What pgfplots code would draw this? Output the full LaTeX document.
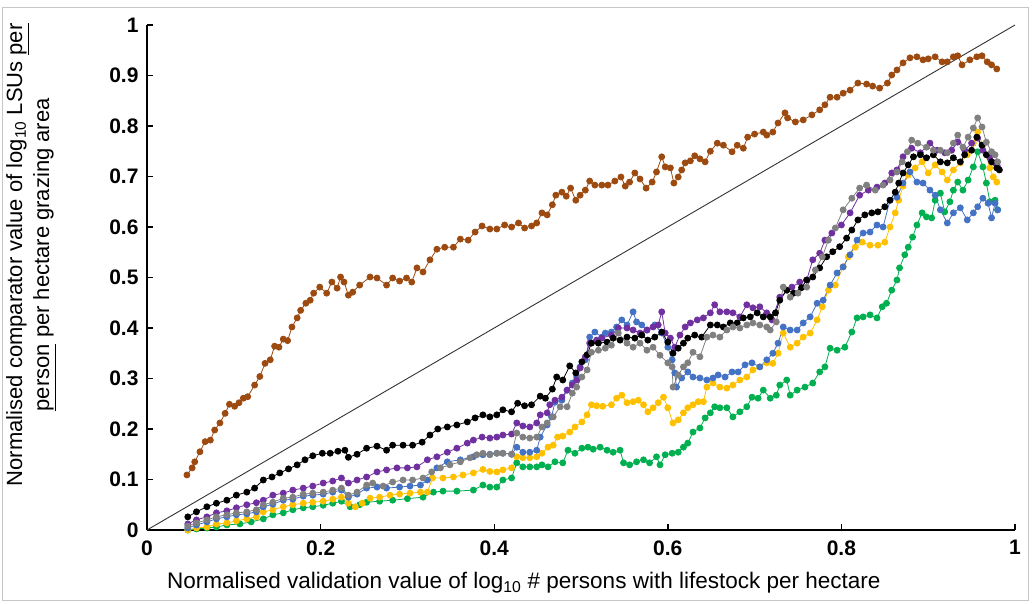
\documentclass[border=0pt]{standalone}
\usepackage{pgfplots}
\usepackage{pgfplotstable}
\usepackage{fontspec}
\setmainfont{Liberation Sans}
\pgfplotsset{compat=1.18}
\definecolor{cbrown}{HTML}{9C4A10}
\definecolor{cpurple}{HTML}{7030A0}
\definecolor{cgray}{HTML}{808080}
\definecolor{cblue}{HTML}{4472C4}
\definecolor{cyellow}{HTML}{FFC000}
\definecolor{cgreen}{HTML}{00B050}
\pgfplotstableread{
x y
0.046 0.109
0.052 0.123
0.055 0.135
0.061 0.155
0.067 0.175
0.073 0.178
0.078 0.198
0.084 0.212
0.090 0.231
0.095 0.249
0.101 0.245
0.106 0.252
0.111 0.261
0.116 0.264
0.124 0.287
0.130 0.304
0.136 0.330
0.142 0.337
0.147 0.364
0.152 0.362
0.157 0.378
0.162 0.375
0.167 0.402
0.173 0.420
0.177 0.435
0.183 0.449
0.188 0.455
0.192 0.469
0.199 0.481
0.207 0.469
0.213 0.491
0.219 0.479
0.223 0.501
0.227 0.491
0.232 0.465
0.237 0.471
0.245 0.485
0.257 0.501
0.265 0.499
0.276 0.485
0.283 0.499
0.291 0.493
0.299 0.499
0.305 0.491
0.311 0.519
0.318 0.511
0.326 0.535
0.334 0.556
0.343 0.560
0.353 0.560
0.361 0.576
0.370 0.574
0.378 0.590
0.386 0.602
0.395 0.596
0.403 0.596
0.412 0.604
0.420 0.600
0.428 0.608
0.435 0.598
0.443 0.602
0.449 0.608
0.455 0.628
0.461 0.624
0.467 0.644
0.471 0.663
0.478 0.669
0.483 0.661
0.488 0.677
0.494 0.653
0.499 0.663
0.505 0.673
0.510 0.691
0.516 0.683
0.524 0.683
0.531 0.683
0.539 0.691
0.546 0.699
0.551 0.681
0.556 0.689
0.562 0.707
0.568 0.695
0.575 0.677
0.582 0.689
0.587 0.709
0.593 0.739
0.597 0.719
0.603 0.717
0.607 0.687
0.612 0.699
0.616 0.713
0.620 0.727
0.626 0.731
0.631 0.741
0.637 0.735
0.643 0.729
0.649 0.750
0.657 0.766
0.664 0.762
0.674 0.749
0.680 0.762
0.687 0.756
0.692 0.778
0.700 0.784
0.710 0.788
0.714 0.782
0.721 0.788
0.727 0.806
0.735 0.826
0.738 0.816
0.747 0.808
0.756 0.812
0.766 0.822
0.775 0.832
0.781 0.842
0.787 0.857
0.795 0.857
0.802 0.865
0.810 0.871
0.819 0.885
0.829 0.883
0.836 0.879
0.844 0.875
0.853 0.885
0.858 0.901
0.864 0.911
0.871 0.925
0.879 0.935
0.887 0.937
0.894 0.931
0.900 0.933
0.908 0.937
0.916 0.927
0.922 0.927
0.929 0.937
0.934 0.939
0.939 0.921
0.948 0.931
0.956 0.937
0.962 0.939
0.968 0.927
0.973 0.921
0.979 0.913
}\brown
\pgfplotstableread{
x y
0.047 0.026
0.057 0.036
0.069 0.046
0.080 0.053
0.092 0.059
0.103 0.069
0.115 0.075
0.124 0.083
0.134 0.099
0.144 0.105
0.153 0.113
0.163 0.121
0.173 0.129
0.182 0.139
0.191 0.147
0.202 0.152
0.211 0.152
0.220 0.156
0.228 0.158
0.232 0.144
0.242 0.150
0.253 0.162
0.265 0.166
0.276 0.158
0.283 0.168
0.295 0.168
0.306 0.168
0.317 0.174
0.326 0.188
0.335 0.200
0.346 0.204
0.357 0.208
0.369 0.214
0.378 0.222
0.387 0.228
0.395 0.224
0.403 0.228
0.410 0.238
0.420 0.234
0.427 0.251
0.435 0.246
0.443 0.248
0.453 0.265
0.459 0.261
0.467 0.279
0.472 0.303
0.479 0.297
0.487 0.325
0.494 0.311
0.501 0.333
0.507 0.347
0.512 0.370
0.520 0.370
0.530 0.372
0.537 0.380
0.545 0.376
0.553 0.382
0.562 0.380
0.570 0.386
0.577 0.376
0.585 0.382
0.593 0.392
0.600 0.372
0.606 0.350
0.612 0.360
0.618 0.370
0.623 0.380
0.631 0.386
0.639 0.382
0.649 0.406
0.657 0.406
0.664 0.402
0.672 0.410
0.680 0.410
0.687 0.420
0.695 0.422
0.703 0.430
0.710 0.422
0.718 0.422
0.724 0.430
0.729 0.455
0.737 0.475
0.745 0.469
0.754 0.480
0.760 0.495
0.767 0.501
0.775 0.519
0.783 0.541
0.790 0.551
0.798 0.561
0.806 0.578
0.812 0.594
0.819 0.614
0.827 0.624
0.835 0.628
0.842 0.630
0.850 0.640
0.856 0.653
0.862 0.669
0.866 0.687
0.871 0.707
0.877 0.723
0.883 0.739
0.891 0.743
0.898 0.737
0.906 0.743
0.914 0.729
0.922 0.727
0.929 0.737
0.937 0.729
0.942 0.743
0.950 0.752
0.956 0.778
0.962 0.762
0.967 0.743
0.973 0.729
0.979 0.717
0.982 0.713
}\black
\pgfplotstableread{
x y
0.047 0.012
0.057 0.020
0.069 0.026
0.080 0.034
0.092 0.038
0.103 0.044
0.115 0.050
0.126 0.054
0.134 0.059
0.145 0.069
0.157 0.073
0.168 0.079
0.180 0.083
0.191 0.087
0.203 0.093
0.214 0.097
0.224 0.103
0.232 0.093
0.242 0.099
0.253 0.105
0.265 0.115
0.276 0.119
0.288 0.123
0.300 0.123
0.311 0.125
0.323 0.139
0.334 0.145
0.346 0.154
0.357 0.162
0.369 0.172
0.376 0.178
0.386 0.184
0.395 0.182
0.403 0.184
0.410 0.188
0.420 0.190
0.426 0.212
0.433 0.206
0.441 0.204
0.449 0.212
0.453 0.228
0.461 0.232
0.464 0.248
0.470 0.257
0.478 0.263
0.484 0.277
0.490 0.287
0.495 0.297
0.499 0.321
0.505 0.343
0.510 0.370
0.518 0.376
0.524 0.380
0.535 0.386
0.543 0.400
0.553 0.400
0.560 0.396
0.568 0.390
0.576 0.396
0.583 0.402
0.589 0.406
0.593 0.432
0.597 0.390
0.603 0.380
0.608 0.362
0.614 0.386
0.620 0.402
0.626 0.410
0.634 0.416
0.641 0.420
0.649 0.430
0.654 0.446
0.660 0.432
0.668 0.432
0.675 0.430
0.683 0.422
0.691 0.446
0.698 0.440
0.706 0.442
0.714 0.430
0.720 0.416
0.729 0.461
0.743 0.481
0.752 0.491
0.760 0.495
0.767 0.535
0.775 0.548
0.781 0.574
0.789 0.588
0.800 0.604
0.810 0.628
0.821 0.663
0.831 0.673
0.841 0.679
0.850 0.687
0.858 0.707
0.864 0.713
0.871 0.739
0.881 0.756
0.891 0.747
0.902 0.766
0.910 0.752
0.919 0.747
0.927 0.752
0.934 0.768
0.942 0.752
0.950 0.766
0.957 0.776
0.963 0.752
0.971 0.737
0.977 0.727
0.980 0.719
}\purple
\pgfplotstableread{
x y
0.047 0.008
0.057 0.014
0.069 0.020
0.080 0.026
0.092 0.030
0.103 0.034
0.115 0.036
0.126 0.040
0.134 0.050
0.145 0.055
0.157 0.063
0.168 0.065
0.180 0.071
0.191 0.073
0.203 0.075
0.214 0.079
0.224 0.083
0.232 0.069
0.242 0.075
0.253 0.089
0.260 0.093
0.272 0.087
0.283 0.095
0.295 0.099
0.306 0.099
0.318 0.103
0.328 0.115
0.338 0.123
0.349 0.129
0.361 0.135
0.372 0.143
0.380 0.149
0.387 0.152
0.395 0.149
0.403 0.152
0.410 0.152
0.420 0.150
0.426 0.192
0.433 0.184
0.441 0.182
0.449 0.184
0.455 0.204
0.461 0.212
0.468 0.224
0.476 0.244
0.484 0.244
0.490 0.271
0.495 0.283
0.501 0.303
0.507 0.317
0.512 0.352
0.520 0.356
0.528 0.360
0.535 0.366
0.543 0.390
0.553 0.370
0.560 0.362
0.568 0.370
0.576 0.356
0.583 0.362
0.591 0.346
0.600 0.331
0.605 0.323
0.606 0.283
0.612 0.307
0.618 0.323
0.623 0.331
0.629 0.352
0.637 0.343
0.645 0.382
0.652 0.386
0.660 0.382
0.668 0.396
0.675 0.402
0.683 0.400
0.691 0.406
0.698 0.410
0.706 0.406
0.714 0.402
0.718 0.396
0.725 0.412
0.733 0.481
0.741 0.461
0.750 0.469
0.760 0.481
0.770 0.515
0.778 0.541
0.785 0.574
0.793 0.598
0.802 0.634
0.812 0.657
0.821 0.677
0.829 0.683
0.839 0.673
0.848 0.683
0.856 0.693
0.864 0.709
0.870 0.729
0.876 0.749
0.881 0.772
0.888 0.766
0.898 0.758
0.906 0.752
0.914 0.752
0.922 0.747
0.929 0.766
0.934 0.782
0.940 0.758
0.946 0.778
0.952 0.796
0.957 0.816
0.962 0.798
0.967 0.768
0.973 0.749
0.977 0.743
0.980 0.729
}\gray
\pgfplotstableread{
x y
0.047 0.004
0.057 0.010
0.069 0.016
0.080 0.022
0.092 0.026
0.103 0.030
0.115 0.032
0.126 0.036
0.134 0.046
0.145 0.051
0.157 0.059
0.168 0.061
0.180 0.067
0.191 0.069
0.203 0.071
0.214 0.075
0.224 0.079
0.232 0.065
0.242 0.071
0.253 0.083
0.265 0.085
0.276 0.083
0.291 0.085
0.303 0.087
0.315 0.089
0.323 0.099
0.334 0.123
0.346 0.135
0.361 0.139
0.376 0.145
0.387 0.149
0.395 0.150
0.403 0.152
0.410 0.152
0.420 0.150
0.426 0.164
0.433 0.154
0.441 0.154
0.449 0.158
0.453 0.184
0.461 0.208
0.466 0.224
0.470 0.253
0.478 0.257
0.484 0.277
0.490 0.291
0.495 0.303
0.499 0.323
0.505 0.337
0.510 0.382
0.516 0.392
0.524 0.382
0.528 0.390
0.535 0.392
0.541 0.402
0.547 0.416
0.553 0.406
0.560 0.432
0.564 0.412
0.570 0.406
0.576 0.396
0.585 0.406
0.593 0.390
0.600 0.362
0.605 0.337
0.608 0.311
0.610 0.283
0.616 0.301
0.623 0.313
0.629 0.303
0.637 0.301
0.645 0.297
0.652 0.301
0.658 0.307
0.666 0.303
0.674 0.313
0.681 0.313
0.689 0.327
0.697 0.331
0.706 0.323
0.714 0.337
0.721 0.350
0.727 0.370
0.733 0.402
0.741 0.396
0.749 0.396
0.756 0.410
0.764 0.422
0.772 0.449
0.779 0.455
0.787 0.485
0.795 0.509
0.802 0.521
0.810 0.545
0.818 0.574
0.825 0.588
0.833 0.590
0.841 0.604
0.848 0.600
0.856 0.653
0.864 0.659
0.871 0.687
0.879 0.709
0.887 0.689
0.894 0.687
0.902 0.673
0.908 0.663
0.914 0.634
0.922 0.608
0.929 0.628
0.937 0.638
0.945 0.614
0.952 0.628
0.957 0.640
0.963 0.657
0.969 0.647
0.973 0.618
0.977 0.647
0.980 0.634
}\blue
\pgfplotstableread{
x y
0.047 0.000
0.057 0.004
0.069 0.006
0.080 0.012
0.092 0.014
0.103 0.018
0.115 0.022
0.126 0.026
0.134 0.036
0.145 0.040
0.157 0.046
0.168 0.050
0.180 0.053
0.191 0.055
0.203 0.057
0.214 0.061
0.224 0.065
0.232 0.053
0.240 0.046
0.248 0.053
0.257 0.063
0.268 0.065
0.280 0.069
0.291 0.071
0.303 0.073
0.315 0.075
0.323 0.075
0.329 0.103
0.341 0.103
0.353 0.105
0.364 0.109
0.376 0.113
0.387 0.120
0.395 0.116
0.403 0.115
0.410 0.119
0.420 0.123
0.426 0.145
0.433 0.143
0.441 0.143
0.449 0.145
0.455 0.152
0.462 0.164
0.468 0.168
0.473 0.184
0.479 0.186
0.487 0.194
0.493 0.204
0.501 0.214
0.507 0.228
0.512 0.248
0.518 0.246
0.525 0.245
0.535 0.248
0.541 0.261
0.547 0.267
0.553 0.252
0.560 0.254
0.566 0.257
0.572 0.248
0.577 0.234
0.583 0.242
0.589 0.252
0.595 0.263
0.600 0.242
0.606 0.212
0.612 0.218
0.618 0.232
0.623 0.242
0.629 0.248
0.635 0.254
0.641 0.254
0.645 0.283
0.652 0.291
0.660 0.283
0.668 0.281
0.675 0.287
0.683 0.297
0.691 0.303
0.698 0.317
0.706 0.323
0.714 0.331
0.721 0.330
0.727 0.350
0.733 0.390
0.741 0.362
0.749 0.370
0.756 0.382
0.764 0.390
0.772 0.416
0.778 0.442
0.785 0.475
0.793 0.485
0.802 0.521
0.808 0.541
0.816 0.560
0.824 0.570
0.833 0.564
0.842 0.564
0.850 0.570
0.856 0.600
0.862 0.628
0.866 0.653
0.871 0.681
0.877 0.703
0.885 0.717
0.893 0.729
0.900 0.707
0.908 0.723
0.916 0.709
0.922 0.693
0.929 0.713
0.937 0.727
0.945 0.743
0.952 0.766
0.957 0.788
0.963 0.762
0.971 0.717
0.975 0.699
0.979 0.689
}\yellow
\pgfplotstableread{
x y
0.047 0.000
0.057 0.002
0.069 0.004
0.080 0.006
0.092 0.010
0.107 0.012
0.120 0.016
0.134 0.022
0.145 0.030
0.157 0.034
0.168 0.040
0.180 0.044
0.191 0.046
0.203 0.049
0.214 0.053
0.224 0.057
0.234 0.046
0.245 0.050
0.253 0.055
0.268 0.057
0.283 0.059
0.300 0.062
0.318 0.065
0.330 0.075
0.341 0.077
0.357 0.077
0.376 0.079
0.387 0.089
0.395 0.085
0.403 0.085
0.410 0.099
0.420 0.103
0.426 0.133
0.433 0.125
0.441 0.125
0.449 0.125
0.455 0.129
0.462 0.125
0.470 0.135
0.479 0.133
0.485 0.158
0.493 0.152
0.501 0.162
0.508 0.164
0.514 0.160
0.522 0.164
0.530 0.158
0.537 0.154
0.545 0.158
0.549 0.133
0.556 0.129
0.564 0.135
0.572 0.139
0.579 0.133
0.587 0.145
0.591 0.129
0.597 0.149
0.605 0.152
0.612 0.154
0.618 0.164
0.623 0.172
0.629 0.194
0.637 0.202
0.643 0.222
0.649 0.232
0.654 0.244
0.660 0.242
0.668 0.242
0.675 0.224
0.683 0.234
0.691 0.244
0.697 0.263
0.704 0.261
0.710 0.277
0.718 0.261
0.725 0.267
0.729 0.287
0.737 0.297
0.741 0.267
0.749 0.277
0.758 0.283
0.767 0.291
0.775 0.313
0.781 0.323
0.787 0.360
0.795 0.356
0.804 0.362
0.812 0.392
0.818 0.420
0.825 0.422
0.833 0.426
0.841 0.420
0.847 0.442
0.852 0.449
0.858 0.475
0.864 0.495
0.867 0.519
0.873 0.545
0.877 0.560
0.882 0.580
0.887 0.604
0.893 0.628
0.898 0.620
0.904 0.618
0.908 0.653
0.914 0.667
0.919 0.630
0.925 0.650
0.929 0.673
0.934 0.689
0.940 0.673
0.946 0.693
0.952 0.719
0.957 0.749
0.963 0.719
0.967 0.687
0.971 0.650
0.977 0.653
0.980 0.634
}\green
\begin{document}
\begin{tikzpicture}
\begin{axis}[
  scale only axis,
  width=868pt, height=505pt,
  xmin=0, xmax=1, ymin=0, ymax=1,
  axis x line=bottom, axis y line=left,
  axis line style={-, line width=1.4pt},
  tick align=inside,
  major tick length=6pt,
  tick style={line width=1.4pt, black},
  xtick={0,0.2,0.4,0.6,0.8,1},
  xticklabels={0,0.2,0.4,0.6,0.8,1},
  ytick={0,0.1,0.2,0.3,0.4,0.5,0.6,0.7,0.8,0.9,1},
  yticklabels={0,0.1,0.2,0.3,0.4,0.5,0.6,0.7,0.8,0.9,1},
  /pgf/number format/assume math mode=true,
  ticklabel style={font=\fontsize{21}{21}\selectfont\bfseries},
  xticklabel style={yshift=-7pt},
  yticklabel style={xshift=-5pt},
  xlabel={Normalised validation value of log\textsubscript{10} \# persons with lifestock per hectare},
  xlabel style={at={(axis description cs:0.434,0)}, anchor=center, yshift=-53pt, font=\fontsize{22.5}{26}\selectfont},
  ylabel={Normalised comparator value of log\textsubscript{10} LSUs \underline{per}\\\underline{person} per hectare grazing area},
  ylabel style={at={(axis description cs:-0.1336,0.545)}, anchor=center, align=center, font=\fontsize{22}{27}\selectfont},
  clip=true,
  every axis plot/.append style={line width=0.8pt, mark=*, mark size=3pt},
]
\addplot[black!80, line width=0.9pt, mark=none] coordinates {(0,0) (1,1)};
\addplot[cbrown, mark options={fill=cbrown, draw=cbrown}] table {\brown};
\addplot[cgreen, mark options={fill=cgreen, draw=cgreen}] table {\green};
\addplot[cyellow, mark options={fill=cyellow, draw=cyellow}] table {\yellow};
\addplot[cblue, mark options={fill=cblue, draw=cblue}] table {\blue};
\addplot[cpurple, mark options={fill=cpurple, draw=cpurple}] table {\purple};
\addplot[black, mark options={fill=black, draw=black}] table {\black};
\addplot[cgray, mark options={fill=cgray, draw=cgray}] table {\gray};
\end{axis}
\draw[gray!45, line width=0.8pt] (-145pt,-70pt) rectangle (881pt,523pt);
\pgfresetboundingbox
\path (-147pt,-73pt) rectangle (885pt,530pt);
\end{tikzpicture}
\end{document}
